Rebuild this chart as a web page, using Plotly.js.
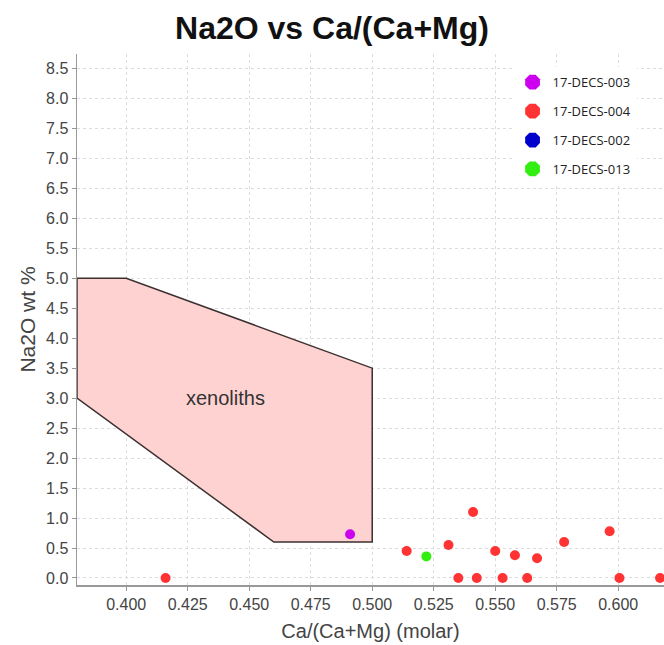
<!DOCTYPE html>
<html>
<head>
<meta charset="utf-8">
<script src="https://cdn.plot.ly/plotly-3.0.1.min.js"></script>
<style>html,body{margin:0;padding:0;background:#fff;}#chart{width:664px;height:645px;}</style>
</head>
<body>
<div id="chart"></div>
<script>
// Sample series
const s003_x = [0.491];
const s003_y = [0.73];
const s004_x = [0.416, 0.514, 0.531, 0.541, 0.535, 0.5425, 0.550, 0.553, 0.558, 0.563, 0.567, 0.578, 0.5965, 0.6005, 0.617];
const s004_y = [0.0, 0.45, 0.55, 1.10, 0.0, 0.0, 0.45, 0.0, 0.38, 0.0, 0.33, 0.60, 0.78, 0.0, 0.0];
const s002_x = [];
const s002_y = [];
const s013_x = [0.522];
const s013_y = [0.36];
const seriesNames = ['17-DECS-003', '17-DECS-004', '17-DECS-002', '17-DECS-013'];
const seriesColors = ['#cc00ee', '#ff3333', '#0000cc', '#33ee11'];
// Xenolith field polygon
const xeno_x = [0.38, 0.40, 0.50, 0.50, 0.46, 0.38, 0.38];
const xeno_y = [5.0, 5.0, 3.5, 0.6, 0.6, 3.0, 5.0];
const xeno_label = "xenoliths";
const xeno_label_x = 0.4405;
const xeno_label_y = 3.0;
const yTicks = [0.0,0.5,1.0,1.5,2.0,2.5,3.0,3.5,4.0,4.5,5.0,5.5,6.0,6.5,7.0,7.5,8.0,8.5];
const xTicks = [0.400,0.425,0.450,0.475,0.500,0.525,0.550,0.575,0.600];

const seriesX = [s003_x, s004_x, s002_x, s013_x];
const seriesY = [s003_y, s004_y, s002_y, s013_y];

const traces = [
  {type:'scatter', mode:'lines', x: xeno_x, y: xeno_y, fill:'toself',
   fillcolor:'rgba(255,210,210,1)', line:{color:'#3d3030', width:1.5}, showlegend:false, hoverinfo:'skip'}
];
// data traces
seriesNames.forEach((n, i) => {
  traces.push({type:'scatter', mode:'markers', name:n, x: seriesX[i], y: seriesY[i], legendgroup:n,
    showlegend:false, marker:{color: seriesColors[i], size: 10, symbol:'circle', line:{width:0}}});
});
// legend entries (large octagon symbols)
seriesNames.forEach((n, i) => {
  traces.push({type:'scatter', mode:'markers', name:n, x:[null], y:[null], legendgroup:n,
    showlegend:true, marker:{color: seriesColors[i], size: 20, symbol:'octagon', line:{width:0}}});
});

const layout = {
  width: 664, height: 645,
  margin: {l: 77, r: 0, t: 54, b: 60},
  paper_bgcolor: '#fff', plot_bgcolor: '#fff',
  font: {family: 'Liberation Sans, Arial, sans-serif', color: '#444'},
  title: {text: '<b>Na2O vs Ca/(Ca+Mg)</b>', font: {size: 32, color: '#111', family: 'Liberation Sans, Arial, sans-serif'},
          x: 0.5, xanchor: 'center', y: 0.957, yanchor: 'middle'},
  xaxis: {
    range: [0.38, 0.6186], tickvals: xTicks, ticktext: xTicks.map(v => v.toFixed(3)),
    showgrid: true, gridcolor: '#dcdcdc', griddash: '3px,3px', gridwidth: 1,
    zeroline: false, showline: true, linecolor: '#999', linewidth: 1.5,
    ticks: 'outside', ticklen: 4, tickcolor: '#999',
    tickfont: {size: 16, color: '#444'},
    title: {text: 'Ca/(Ca+Mg) (molar)', font: {size: 20, color: '#444'}, standoff: 12}
  },
  yaxis: {
    range: [-0.117, 8.74], tickvals: yTicks, ticktext: yTicks.map(v => v.toFixed(1)),
    showgrid: true, gridcolor: '#dcdcdc', griddash: '3px,3px', gridwidth: 1,
    zeroline: false, showline: true, linecolor: '#999', linewidth: 1.5,
    ticks: 'outside', ticklen: 4, tickcolor: '#999',
    tickfont: {size: 16, color: '#444'},
    title: {text: 'Na2O wt %', font: {size: 21, color: '#444'}, standoff: 4}
  },
  showlegend: true,
  legend: {x: 0.742, xanchor: 'left', y: 0.975, yanchor: 'top', bgcolor: '#fff', borderwidth: 0,
           font: {family: 'Open Sans, sans-serif', size: 13, color: '#222'},
           tracegroupgap: 9, itemsizing: 'trace'},
  annotations: [{x: xeno_label_x, y: xeno_label_y, xref: 'x', yref: 'y', text: xeno_label, showarrow: false,
                 font: {size: 20, color: '#333', family: 'Liberation Sans, Arial, sans-serif'}}]
};

Plotly.newPlot('chart', traces, layout, {displayModeBar: false, staticPlot: true});
</script>
</body>
</html>
